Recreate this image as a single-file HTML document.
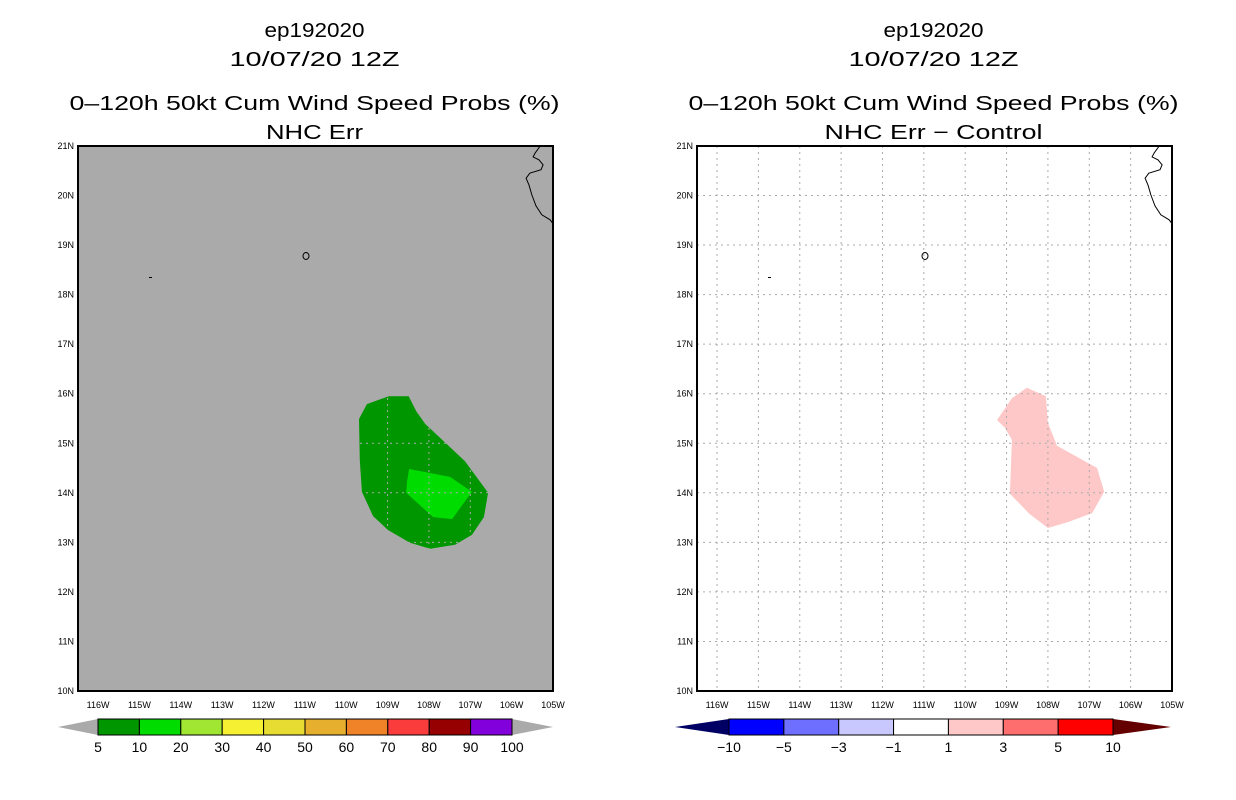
<!DOCTYPE html>
<html><head><meta charset="utf-8"><style>
body{margin:0;background:#fff;}
svg{display:block;font-family:"Liberation Sans",sans-serif;}
</style></head><body>
<svg id="svg" width="1236" height="800"></svg>
<script>
const lonTicks=[-116,-115,-114,-113,-112,-111,-110,-109,-108,-107,-106,-105];
const latTicks=[10,11,12,13,14,15,16,17,18,19,20,21];
const probLevels=["5","10","20","30","40","50","60","70","80","90","100"];
const probColors=["#009600","#00dc00","#a0e632","#f5f032","#e6dc32","#e6af2d","#f08228","#fa3c3c","#960000","#8200dc"];
const diffLevels=["−10","−5","−3","−1","1","3","5","10"];
const diffColors=["#0000ff","#6e6eff","#c8c8ff","#ffffff","#ffc8c8","#ff6e6e","#ff0000"];
const prob5Lon=[-109.50,-108.97,-108.49,-108.31,-108.09,-107.13,-106.57,-106.67,-106.96,-107.37,-107.97,-108.46,-108.99,-109.35,-109.62,-109.67,-109.69];
const prob5Lat=[15.79,15.95,15.95,15.65,15.39,14.64,14.00,13.51,13.15,12.95,12.87,12.99,13.25,13.53,14.02,14.66,15.49];
const prob10Lon=[-108.48,-107.49,-106.96,-107.44,-107.90,-108.55,-108.53];
const prob10Lat=[14.48,14.32,14.02,13.47,13.51,14.00,14.22];
const diffLon=[-109.23,-108.87,-108.51,-108.05,-108.00,-107.78,-106.81,-106.64,-106.93,-107.51,-108.00,-108.44,-108.92,-108.87,-109.04];
const diffLat=[15.47,15.91,15.12+1,15.95,15.41,14.95,14.50,14.02,13.59,13.41,13.29,13.57,13.98,15.07,15.31];
const coastLon=[-105.31,-105.43,-105.48,-105.34,-105.24,-105.29,-105.56,-105.65,-105.58,-105.51,-105.41,-105.27,-105.07,-105.0];
const coastLat=[21.0,20.86,20.78,20.72,20.62,20.52,20.45,20.35,20.21,20.01,19.79,19.61,19.51,19.43];

const NS='http://www.w3.org/2000/svg';
const svg=document.getElementById('svg');
function el(t,a,p){const e=document.createElementNS(NS,t);for(const k in a)e.setAttribute(k,a[k]);(p||svg).appendChild(e);return e;}
function txt(s,x,y,size,anchor,p,tl){const e=el('text',{x:x,y:y,'font-size':size,'text-anchor':anchor||'middle',fill:'#000'},p);if(tl){e.setAttribute('textLength',tl);e.setAttribute('lengthAdjust','spacingAndGlyphs');}e.textContent=s;return e;}

function panel(x0,title4,sub,bg,isDiff){
  const g=el('g',{});
  
  
  const L=x0,R=x0+475,T=146,B=691;
  const xs=lon=>R-(-105-lon)*41.36;
  const ys=lat=>B-(lat-10)*49.55;
  const cx=(L+R)/2-5;
  const t1=txt('ep192020',cx+4,37,20,'middle',g,100);
  
  const t2=txt('10/07/20 12Z',cx+4,66,20,'middle',g,170);
  
  const t3=txt('0–120h 50kt Cum Wind Speed Probs (%)',cx+4,110,20,'middle',g,490);
  
  const t4=txt(sub,cx+4,139,20,'middle',g,isDiff?218:97);
  
  const bgR=el('rect',{x:L,y:T,width:R-L,height:B-T,fill:bg},g);
  
  function poly(lons,lats,fill,name){
    const p=el('polygon',{points:lons.map((v,i)=>xs(v).toFixed(1)+','+ys(lats[i]).toFixed(1)).join(' '),fill:fill},g);
    
  }
  if(!isDiff){poly(prob5Lon,prob5Lat,probColors[0],'prob-5-10-region');poly(prob10Lon,prob10Lat,probColors[1],'prob-10-20-region');}
  else poly(diffLon,diffLat,diffColors[4],'diff-1-3-region');
  const gc='#aaaaaa';
  lonTicks.forEach(v=>{const x=xs(v);if(x<R-1){const l=el('line',{x1:x,y1:T,x2:x,y2:B,stroke:gc,'stroke-width':1,'stroke-dasharray':'2,4'},g);}
    const lb=txt(Math.abs(v)+'W',x,708,9,'middle',g);});
  latTicks.forEach(v=>{const y=ys(v);if(y>T+1&&y<B-1){const l=el('line',{x1:L,y1:y,x2:R,y2:y,stroke:gc,'stroke-width':1,'stroke-dasharray':'2,4'},g);}
    const lb=txt(v+'N',L-4,y+3,9,'end',g);});
  const c=el('polyline',{points:coastLon.map((v,i)=>xs(v).toFixed(1)+','+ys(coastLat[i]).toFixed(1)).join(' '),fill:'none',stroke:'#000','stroke-width':1},g);
  
  const isl=el('ellipse',{cx:L+228,cy:256,rx:3,ry:3.5,fill:'none',stroke:'#000','stroke-width':1},g);
  
  const isl2=el('rect',{x:L+71,y:277,width:3,height:1,fill:'#000'},g);
  
  const fr=el('rect',{x:L,y:T,width:R-L,height:B-T,fill:'none',stroke:'#000','stroke-width':2},g);
  
  // colorbar
  const cb=el('g',{},g);
  
  const y1=719,y2=735,ym=727;
  let bl,br,lt,rt,cols,labs,lc,rc;
  if(!isDiff){bl=98;br=512;lt=58;rt=553;cols=probColors;labs=probLevels;lc='#aaaaaa';rc='#aaaaaa';}
  else{bl=729;br=1113;lt=675;rt=1171;cols=diffColors;labs=diffLevels;lc='#000064';rc='#640000';}
  const w=(br-bl)/cols.length;
  el('polygon',{points:`${lt},${ym} ${bl},${y1} ${bl},${y2}`,fill:lc},cb);
  el('polygon',{points:`${rt},${ym} ${br},${y1} ${br},${y2}`,fill:rc},cb);
  cols.forEach((col,i)=>{const r=el('rect',{x:bl+i*w,y:y1,width:w,height:y2-y1,fill:col,stroke:'#000','stroke-width':1},cb);
    });
  labs.forEach((s,i)=>{const t=txt(s,bl+i*w,752,14,'middle',cb);});
}
panel(78,'','NHC Err','#aaaaaa',false);
panel(697,'','NHC Err − Control','#ffffff',true);
</script>
</body></html>
